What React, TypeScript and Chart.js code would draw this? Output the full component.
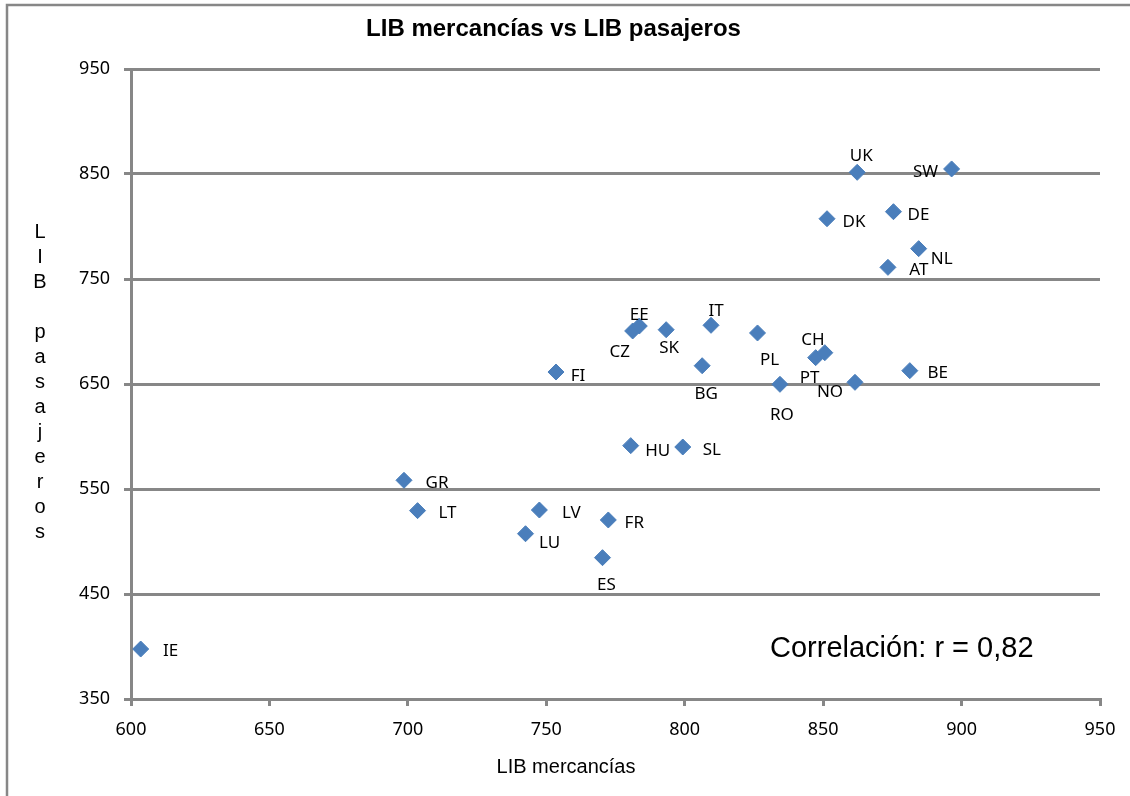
import React, { useEffect, useRef } from 'react';
import { Chart, registerables } from 'chart.js';

Chart.register(...registerables);

const countries = ['IE', 'GR', 'LT', 'LV', 'LU', 'FR', 'ES', 'HU', 'SL', 'FI', 'CZ', 'EE', 'SK', 'IT', 'BG', 'PL', 'RO', 'PT', 'CH', 'NO', 'BE', 'UK', 'SW', 'DK', 'DE', 'NL', 'AT'];
const mercancias = [603.5, 698.6, 703.5, 747.5, 742.5, 772.4, 770.3, 780.5, 799.3, 753.5, 781.2, 783.6, 793.3, 809.5, 806.3, 826.3, 834.4, 847.3, 850.6, 861.5, 881.3, 862.3, 896.4, 851.4, 875.4, 884.5, 873.4];
const pasajeros = [397.6, 558.3, 529.4, 530.0, 507.4, 520.5, 484.6, 591.3, 590.0, 661.4, 700.5, 705.2, 701.7, 705.9, 667.4, 698.6, 649.7, 675.1, 679.8, 651.6, 662.7, 851.6, 854.8, 807.4, 814.1, 778.9, 761.1];

const chartTitle = 'LIB mercancías vs LIB pasajeros';
const xTitle = 'LIB mercancías';
const yTitle = 'LIB pasajeros';
const correlationText = 'Correlación: r = 0,82';

// label offsets (presentation only): [dx, dy] in px from the marker centre
const labelOffsets: [number, number][] = [
  [30, 1], [33, 2], [30, 1], [32, 2], [24, 8], [26, 2], [4, 26], [27, 4], [29, 2], [22, 3],
  [-13, 20], [0, -12], [3, 17], [5, -15], [4, 27], [12, 26], [2, 30], [-6, 19], [-12, -14], [-25, 9],
  [28, 1], [4, -17], [-26, 2], [27, 2], [25, 2], [23, 9], [31, 2],
];

const GRAY = '#878787';
const LABEL_FONT = '17px "Noto Sans"';

const decorPlugin = {
  id: 'decor',
  beforeDraw(chart: any) {
    const ctx = chart.ctx;
    ctx.save();
    ctx.fillStyle = '#ffffff';
    ctx.fillRect(0, 0, chart.width, chart.height);
    ctx.strokeStyle = GRAY;
    ctx.lineWidth = 2.5;
    ctx.beginPath();
    ctx.moveTo(7, chart.height);
    ctx.lineTo(7, 5);
    ctx.lineTo(chart.width, 5);
    ctx.stroke();
    ctx.restore();
  },
  afterDraw(chart: any) {
    const ctx = chart.ctx;
    ctx.save();
    ctx.fillStyle = '#000';
    // title
    ctx.font = 'bold 24px "Liberation Sans", Arial, sans-serif';
    ctx.textAlign = 'center';
    ctx.textBaseline = 'alphabetic';
    ctx.fillText(chartTitle, 553.5, 36);
    // x title
    ctx.font = '20px "Liberation Sans", Arial, sans-serif';
    ctx.fillText(xTitle, 566, 773);
    // y title (stacked)
    const chars = yTitle.split('');
    chars.forEach((c, i) => {
      if (c !== ' ') ctx.fillText(c, 40, 238 + i * 25);
    });
    // correlation
    ctx.font = '29px "Liberation Sans", Arial, sans-serif';
    ctx.textAlign = 'left';
    ctx.fillText(correlationText, 770, 657);
    // data labels
    ctx.font = LABEL_FONT;
    ctx.textAlign = 'center';
    const meta = chart.getDatasetMeta(0);
    meta.data.forEach((pt: any, i: number) => {
      const [dx, dy] = labelOffsets[i];
      ctx.fillText(countries[i], pt.x + dx, pt.y + dy + 6);
    });
    ctx.restore();
  },
};

export default function App() {
  const ref = useRef<HTMLCanvasElement | null>(null);
  useEffect(() => {
    if (!ref.current) return;
    const chart = new Chart(ref.current, {
      type: 'scatter',
      data: {
        datasets: [
          {
            label: 'LIB',
            data: mercancias.map((x, i) => ({ x, y: pasajeros[i] })),
            pointStyle: 'rectRot',
            pointRadius: 8,
            pointBorderWidth: 1,
            backgroundColor: '#4a7ebb',
            borderColor: '#4a7ebb',
          },
        ],
      },
      options: {
        responsive: false,
        animation: false,
        devicePixelRatio: 1,
        layout: { padding: { left: 0, top: 69, right: 30, bottom: 0 } },
        plugins: {
          legend: { display: false },
          title: { display: false },
          tooltip: { enabled: false },
        },
        scales: {
          x: {
            type: 'linear',
            min: 600,
            max: 950,
            ticks: { stepSize: 50, color: '#000', font: { family: '"Noto Sans"', size: 18 }, padding: 13 },
            grid: { drawOnChartArea: false, drawTicks: true, tickLength: 7, color: GRAY, lineWidth: 3 },
            border: { display: true, color: GRAY, width: 3 },
            afterFit: (s: any) => { s.height = 97; },
          },
          y: {
            type: 'linear',
            min: 350,
            max: 950,
            ticks: { stepSize: 100, color: '#000', font: { family: '"Noto Sans"', size: 18 }, padding: 14 },
            grid: { drawTicks: true, tickLength: 7, color: GRAY, lineWidth: 3 },
            border: { display: true, color: GRAY, width: 3 },
            afterFit: (s: any) => { s.width = 131; },
          },
        },
      },
      plugins: [decorPlugin],
    });
    return () => chart.destroy();
  }, []);
  return (
    <div style={{ position: 'fixed', left: 0, top: 0, width: 1130, height: 796, background: '#fff' }}>
      <canvas ref={ref} width={1130} height={796} style={{ display: 'block' }} />
    </div>
  );
}
